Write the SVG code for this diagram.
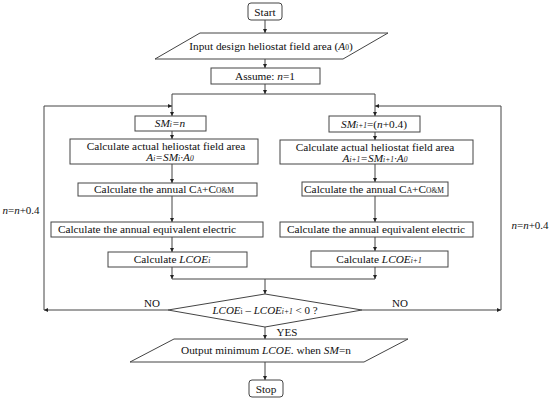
<svg xmlns="http://www.w3.org/2000/svg" width="550" height="400" viewBox="0 0 550 400" font-family="'Liberation Serif', serif">
<defs>
<style>
.b{fill:#fff;stroke:#444;stroke-width:1}
.l{fill:none;stroke:#444;stroke-width:1}
text{font-family:"Liberation Serif","Times New Roman",serif;font-size:11.3px;fill:#111;text-anchor:middle}
.i{font-style:italic}
.s{font-size:7.5px}
.m{font-size:11px}
</style>
<marker id="a" viewBox="0 0 6 6" refX="6" refY="3" markerWidth="4" markerHeight="4" orient="auto" markerUnits="userSpaceOnUse"><path d="M0,0L6,3L0,6z" fill="#222"/></marker>
</defs>
<rect width="550" height="400" fill="#fff"/>
<g id="connectors">
<path class="l" d="M265,20V33" marker-end="url(#a)"/>
<path class="l" d="M265,59V68" marker-end="url(#a)"/>
<path class="l" d="M265,84V94" marker-end="url(#a)"/>
<path class="l" d="M172,94H375"/>
<path class="l" d="M172,94V116" marker-end="url(#a)"/>
<path class="l" d="M375,94V116" marker-end="url(#a)"/>
<path class="l" d="M172,131V139" marker-end="url(#a)"/>
<path class="l" d="M375,132V140" marker-end="url(#a)"/>
<path class="l" d="M172,164V183" marker-end="url(#a)"/>
<path class="l" d="M375,164V182" marker-end="url(#a)"/>
<path class="l" d="M172,196V222" marker-end="url(#a)"/>
<path class="l" d="M375,196V222" marker-end="url(#a)"/>
<path class="l" d="M172,237V252" marker-end="url(#a)"/>
<path class="l" d="M375,237V251" marker-end="url(#a)"/>
<path class="l" d="M172,267V279" marker-end="url(#a)"/>
<path class="l" d="M375,267V279" marker-end="url(#a)"/>
<path class="l" d="M172,279H375"/>
<path class="l" d="M265,279V294" marker-end="url(#a)"/>
<path class="l" d="M168,310H44" marker-end="url(#a)"/>
<path class="l" d="M44,310V106H172" marker-end="url(#a)"/>
<path class="l" d="M362,310H501" marker-end="url(#a)"/>
<path class="l" d="M501,310V106H375" marker-end="url(#a)"/>
<path class="l" d="M265,327V339" marker-end="url(#a)"/>
<path class="l" d="M265,362V380" marker-end="url(#a)"/>
<text class="m" x="152" y="307">NO</text>
<text class="m" x="400" y="307">NO</text>
<text class="m" x="287" y="336">YES</text>
<text class="m" x="21" y="214"><tspan class="i">n</tspan>=<tspan class="i">n</tspan>+0.4</text>
<text class="m" x="530" y="229"><tspan class="i">n</tspan>=<tspan class="i">n</tspan>+0.4</text>
</g>
<g id="start">
<rect class="b" x="248" y="3" width="34" height="17" rx="3"/>
<text x="265" y="15.5">Start</text>
</g>
<g id="input">
<path class="b" d="M200,33H388L343,59H155Z"/>
<text x="271" y="50">Input design heliostat field area (<tspan class="i">A</tspan><tspan class="s">0</tspan>)</text>
</g>
<g id="assume">
<rect class="b" x="211" y="68" width="109" height="16"/>
<text x="265" y="80">Assume: <tspan class="i">n</tspan>=1</text>
</g>
<g id="smi">
<rect class="b" x="135" y="116" width="71" height="15"/>
<text x="170" y="127" class="i">SM<tspan class="s">i</tspan>=n</text>
</g>
<g id="smi1">
<rect class="b" x="329" y="116" width="91" height="16"/>
<text x="374" y="128"><tspan class="i">SM</tspan><tspan class="s i">i+1</tspan>=(<tspan class="i">n</tspan>+0.4)</text>
</g>
<g id="areai">
<rect class="b" x="70" y="139" width="188" height="25"/>
<text x="166" y="149.5">Calculate actual  heliostat field area</text>
<text x="170" y="161" class="i">A<tspan class="s">i</tspan>=SM<tspan class="s">i</tspan>·A<tspan class="s">0</tspan></text>
</g>
<g id="areai1">
<rect class="b" x="280" y="140" width="193" height="24"/>
<text x="375" y="150.5">Calculate actual  heliostat field area</text>
<text x="375" y="161.5" class="i">A<tspan class="s">i+1</tspan>=SM<tspan class="s">i+1</tspan>·A<tspan class="s">0</tspan></text>
</g>
<g id="costi">
<rect class="b" x="78" y="183" width="179" height="13"/>
<text x="164" y="193">Calculate the annual C<tspan class="s">A</tspan>+C<tspan class="s">O&amp;M</tspan></text>
</g>
<g id="costi1">
<rect class="b" x="302" y="182" width="146" height="14"/>
<text x="374" y="193">Calculate the annual C<tspan class="s">A</tspan>+C<tspan class="s">O&amp;M</tspan></text>
</g>
<g id="elei">
<rect class="b" x="51" y="222" width="212" height="15"/>
<text x="147" y="233">Calculate the annual equivalent electric</text>
</g>
<g id="elei1">
<rect class="b" x="280" y="222" width="193" height="15"/>
<text x="376" y="233">Calculate the annual equivalent electric</text>
</g>
<g id="lcoei">
<rect class="b" x="108" y="252" width="139" height="15"/>
<text x="172" y="263">Calculate <tspan class="i">LCOE</tspan><tspan class="s i">i</tspan></text>
</g>
<g id="lcoei1">
<rect class="b" x="311" y="251" width="137" height="16"/>
<text x="379" y="262.5">Calculate <tspan class="i">LCOE</tspan><tspan class="s i">i+1</tspan></text>
</g>
<g id="decision">
<path class="b" d="M265,294L362,310L265,327L168,310Z"/>
<text class="m" x="265" y="314"><tspan class="i">LCOE</tspan><tspan class="s">i</tspan> – <tspan class="i">LCOE</tspan><tspan class="s i">i+1</tspan> &lt; 0 ?</text>
</g>
<g id="output">
<path class="b" d="M174,339H408L364,362H130Z"/>
<text x="266" y="354">Output minimum <tspan class="i">LCOE.</tspan> when <tspan class="i">SM</tspan>=n</text>
</g>
<g id="stop">
<rect class="b" x="249" y="380" width="34" height="17" rx="3"/>
<text x="266" y="392.5">Stop</text>
</g>
</svg>
